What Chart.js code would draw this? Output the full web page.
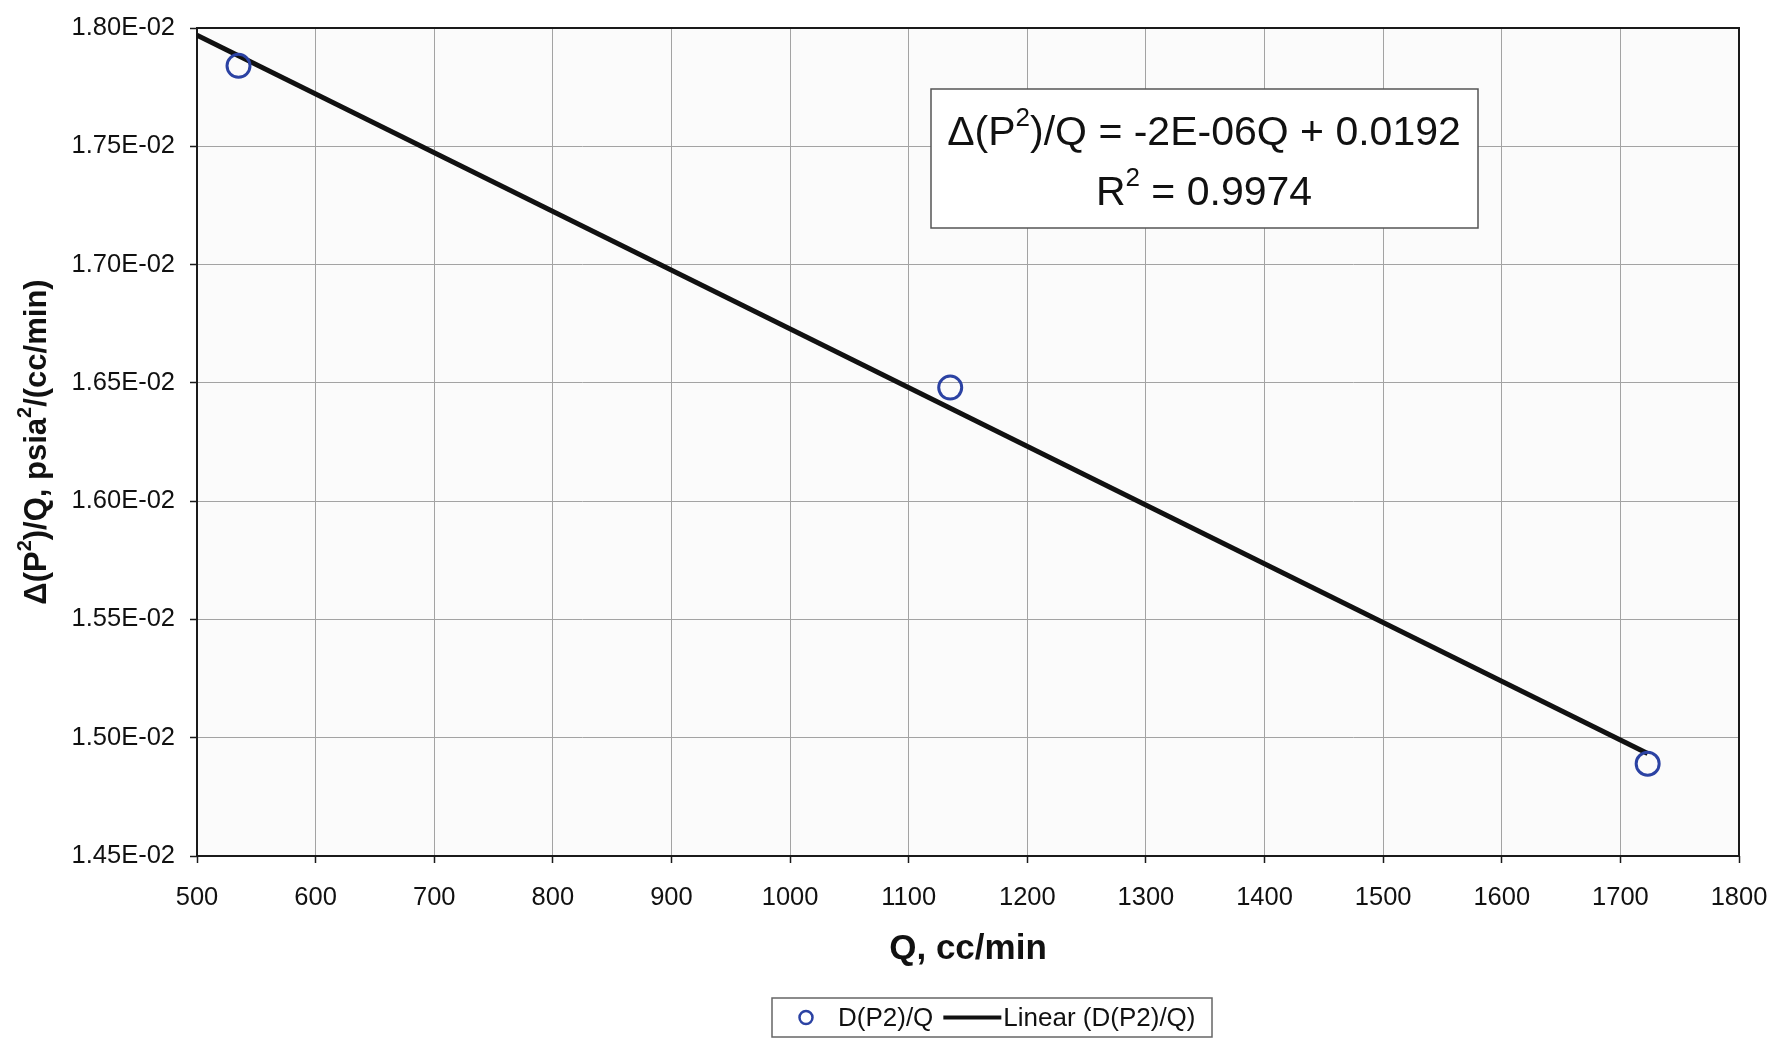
<!DOCTYPE html>
<html>
<head>
<meta charset="utf-8">
<title>D(P2)/Q vs Q</title>
<script src="https://cdn.jsdelivr.net/npm/chart.js@4.4.1/dist/chart.umd.min.js"></script>
<style>
    html, body { margin: 0; padding: 0; background: #ffffff; }
    #wrap { width: 1776px; height: 1050px; }
</style>
</head>
<body>
<div id="wrap"><canvas id="flow-chart" width="1776" height="1050"></canvas></div>
<script>
(function () {
    'use strict';

    // measured flow rates and pressure-squared drop per unit flow
    var qValues = [535, 1135, 1723];
    var dpqValues = [0.01784, 0.01648, 0.01489];

    // trend line is drawn from the axis minimum back up to the last point
    var trendStart = 500;

    var xTicks = [500, 600, 700, 800, 900, 1000, 1100, 1200, 1300, 1400, 1500, 1600, 1700, 1800];
    var yTicks = [0.0145, 0.0150, 0.0155, 0.0160, 0.0165, 0.0170, 0.0175, 0.0180];

    var eqLine1 = [{ t: '\u0394(P' }, { t: '2', sup: true }, { t: ')/Q = -2E-06Q + 0.0192' }];
    var eqLine2 = [{ t: 'R' }, { t: '2', sup: true }, { t: ' = 0.9974' }];
    var yTitle = [{ t: '\u0394(P' }, { t: '2', sup: true }, { t: ')/Q, psia' }, { t: '2', sup: true }, { t: '/(cc/min)' }];

    var FONT = '"Liberation Sans", Arial, Helvetica, sans-serif';
    var pointBlue = '#2b42a3';

    //====[ least squares fit ]==============================

    function linearFit(xs, ys) {
        var n = xs.length, mx = 0, my = 0, sxx = 0, sxy = 0, i;
        for (i = 0; i < n; i++) { mx += xs[i]; my += ys[i]; }
        mx /= n; my /= n;
        for (i = 0; i < n; i++) {
            sxx += (xs[i] - mx) * (xs[i] - mx);
            sxy += (xs[i] - mx) * (ys[i] - my);
        }
        var slope = sxy / sxx;
        return { slope: slope, intercept: my - slope * mx };
    }

    var fit = linearFit(qValues, dpqValues);
    var trendX = [trendStart, qValues[qValues.length - 1]];

    function sciLabel(v) {
        var e = Math.floor(Math.log10(v) + 1e-9);
        var m = v / Math.pow(10, e);
        var sign = e < 0 ? '-' : '+';
        var ee = String(Math.abs(e));
        if (ee.length < 2) ee = '0' + ee;
        return m.toFixed(2) + 'E' + sign + ee;
    }

    // text with raised "2" superscripts, centred on (cx, cy)
    function drawRich(ctx, parts, cx, cy, size, weight) {
        var supSize = Math.round(size * 0.64);
        var total = 0;
        parts.forEach(function (p) {
            ctx.font = weight + ' ' + (p.sup ? supSize : size) + 'px ' + FONT;
            p.w = ctx.measureText(p.t).width;
            total += p.w;
        });
        var x = cx - total / 2;
        ctx.textAlign = 'left';
        ctx.textBaseline = 'middle';
        parts.forEach(function (p) {
            ctx.font = weight + ' ' + (p.sup ? supSize : size) + 'px ' + FONT;
            ctx.fillText(p.t, x, p.sup ? cy - size * 0.36 : cy);
            x += p.w;
        });
    }

    var decorations = {
        id: 'decorations',
        beforeDraw: function (chart) {
            var a = chart.chartArea, ctx = chart.ctx;
            ctx.save();
            ctx.fillStyle = '#fbfbfb';
            ctx.fillRect(a.left, a.top, a.right - a.left, a.bottom - a.top);
            ctx.restore();
        },
        beforeDatasetsDraw: function (chart) {
            var a = chart.chartArea, ctx = chart.ctx;
            ctx.save();
            ctx.strokeStyle = '#1a1a1a';
            ctx.lineWidth = 2;
            ctx.strokeRect(a.left, a.top, a.right - a.left, a.bottom - a.top);
            ctx.restore();
        },
        afterDraw: function (chart) {
            var ctx = chart.ctx;
            ctx.save();

            // y axis title
            ctx.fillStyle = '#111111';
            ctx.translate(37, 442);
            ctx.rotate(-Math.PI / 2);
            drawRich(ctx, yTitle, 0, 0, 31, 'bold');
            ctx.setTransform(1, 0, 0, 1, 0, 0);

            // equation box
            ctx.fillStyle = '#ffffff';
            ctx.fillRect(931, 89, 547, 139);
            ctx.strokeStyle = '#555555';
            ctx.lineWidth = 1.5;
            ctx.strokeRect(931, 89, 547, 139);
            ctx.fillStyle = '#111111';
            drawRich(ctx, eqLine1, 1204, 134, 41, 'normal');
            drawRich(ctx, eqLine2, 1204, 194, 41, 'normal');

            // legend
            var ds = chart.data.datasets;
            var lx = 772, ly = 998, lw = 440, lh = 39, cy = ly + lh / 2;
            ctx.fillStyle = '#ffffff';
            ctx.fillRect(lx, ly, lw, lh);
            ctx.strokeStyle = '#666666';
            ctx.lineWidth = 1.5;
            ctx.strokeRect(lx, ly, lw, lh);

            ctx.beginPath();
            ctx.arc(lx + 34, cy, 6.5, 0, Math.PI * 2);
            ctx.strokeStyle = pointBlue;
            ctx.lineWidth = 2.5;
            ctx.stroke();

            ctx.font = '26px ' + FONT;
            ctx.fillStyle = '#111111';
            ctx.textAlign = 'left';
            ctx.textBaseline = 'middle';
            ctx.fillText(ds[0].label, lx + 66, cy + 1);
            var after = lx + 66 + ctx.measureText(ds[0].label).width + 10;

            ctx.beginPath();
            ctx.moveTo(after, cy);
            ctx.lineTo(after + 58, cy);
            ctx.strokeStyle = '#111111';
            ctx.lineWidth = 4;
            ctx.stroke();
            ctx.fillText(ds[1].label, after + 60, cy + 1);

            ctx.restore();
        }
    };

    new Chart(document.getElementById('flow-chart'), {
        type: 'scatter',
        data: {
            datasets: [{
                label: 'D(P2)/Q',
                data: qValues.map(function (q, i) { return { x: q, y: dpqValues[i] }; }),
                showLine: false,
                pointStyle: 'circle',
                pointRadius: 11.5,
                pointBorderWidth: 3,
                pointBorderColor: pointBlue,
                pointBackgroundColor: 'rgba(0,0,0,0)',
                order: 1
            }, {
                label: 'Linear (D(P2)/Q)',
                type: 'line',
                data: trendX.map(function (q) { return { x: q, y: fit.intercept + fit.slope * q }; }),
                borderColor: '#111111',
                borderWidth: 5,
                pointRadius: 0,
                fill: false,
                order: 2
            }]
        },
        options: {
            responsive: false,
            animation: false,
            devicePixelRatio: 1,
            layout: { padding: { left: 0, right: 37, top: 28, bottom: 0 } },
            plugins: {
                legend: { display: false },
                tooltip: { enabled: false }
            },
            scales: {
                x: {
                    type: 'linear',
                    min: 500,
                    max: 1800,
                    afterBuildTicks: function (scale) {
                        scale.ticks = xTicks.map(function (v) { return { value: v }; });
                    },
                    afterFit: function (scale) {
                        scale.height = 194;
                        scale.paddingLeft = 0;
                        scale.paddingRight = 0;
                    },
                    grid: { color: '#a3a3a3', lineWidth: 1, tickLength: 7, tickColor: '#1a1a1a', tickWidth: 1.5 },
                    border: { display: false },
                    ticks: {
                        padding: 20,
                        maxRotation: 0,
                        color: '#111111',
                        font: { family: FONT, size: 25.5 },
                        callback: function (v) { return String(v); }
                    },
                    title: {
                        display: true,
                        text: 'Q, cc/min',
                        color: '#111111',
                        font: { family: FONT, size: 35, weight: 'bold' },
                        padding: { top: 0, bottom: 80 }
                    }
                },
                y: {
                    type: 'linear',
                    min: 0.0145,
                    max: 0.018,
                    afterBuildTicks: function (scale) {
                        scale.ticks = yTicks.map(function (v) { return { value: v }; });
                    },
                    afterFit: function (scale) {
                        scale.width = 197;
                        scale.paddingTop = 0;
                        scale.paddingBottom = 0;
                    },
                    grid: { color: '#a3a3a3', lineWidth: 1, tickLength: 7, tickColor: '#1a1a1a', tickWidth: 1.5 },
                    border: { display: false },
                    ticks: {
                        padding: 15,
                        color: '#111111',
                        font: { family: FONT, size: 25.5 },
                        callback: function (v) { return sciLabel(v); }
                    }
                }
            }
        },
        plugins: [decorations]
    });
})();
</script>
</body>
</html>
